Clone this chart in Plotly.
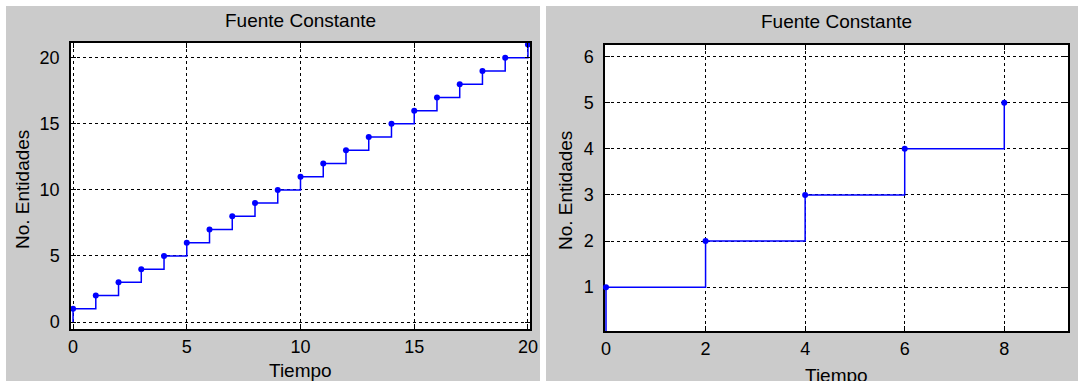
import plotly.graph_objects as go

# ---- data ----
t_left = list(range(0, 21))
n_left = [i + 1 for i in t_left]
t_right = [0, 2, 4, 6, 8]
n_right = [1, 2, 3, 4, 5]

title_text = "Fuente Constante"
xlabel = "Tiempo"
ylabel = "No. Entidades"
left_xticks = [0, 5, 10, 15, 20]
left_yticks = [0, 5, 10, 15, 20]
right_xticks = [0, 2, 4, 6, 8]
right_yticks = [1, 2, 3, 4, 5, 6]

W, H = 1078, 381
FONT = "Liberation Sans, Arial, sans-serif"
BLUE = "#0000ff"
GRAY = "#cbcbcb"

def px_x(p):
    return p / W

def px_y(p):
    return 1 - p / H

fig = go.Figure()

# left stairs
fig.add_trace(go.Scatter(x=[t_left[0]] + t_left, y=[0] + n_left, mode="lines",
                         line=dict(color=BLUE, width=1.5, shape="hv"),
                         xaxis="x", yaxis="y", showlegend=False, hoverinfo="skip"))
fig.add_trace(go.Scatter(x=t_left, y=n_left, mode="markers",
                         marker=dict(color=BLUE, size=6), cliponaxis=False,
                         xaxis="x", yaxis="y", showlegend=False))
# right stairs
fig.add_trace(go.Scatter(x=[t_right[0]] + t_right, y=[0] + n_right, mode="lines",
                         line=dict(color=BLUE, width=1.5, shape="hv"),
                         xaxis="x2", yaxis="y2", showlegend=False, hoverinfo="skip"))
fig.add_trace(go.Scatter(x=t_right, y=n_right, mode="markers",
                         marker=dict(color=BLUE, size=6), cliponaxis=False,
                         xaxis="x2", yaxis="y2", showlegend=False))

axis_common = dict(showline=True, linecolor="black", linewidth=1.5, mirror="ticks",
                   ticks="inside", ticklen=5, tickcolor="black", tickwidth=1,
                   showgrid=True, gridcolor="black", gridwidth=1, griddash="3px,3px",
                   zeroline=False, tickfont=dict(family=FONT, size=18, color="black"),
                   fixedrange=True)

L = (71, 530, 43, 329)   # left, right, top, bottom in px
R = (605, 1068, 45, 331)

fig.update_layout(
    autosize=True, margin=dict(l=0, r=0, t=0, b=0, autoexpand=False),
    paper_bgcolor="white", plot_bgcolor="white",
    xaxis=dict(domain=[px_x(L[0]), px_x(L[1])], range=[-0.09, 20.09],
               tickvals=left_xticks, anchor="y", ticklabelstandoff=1, **axis_common),
    yaxis=dict(domain=[px_y(L[3]), px_y(L[2])], range=[-0.53, 21.12],
               tickvals=left_yticks, anchor="x", ticklabelstandoff=6, **axis_common),
    xaxis2=dict(domain=[px_x(R[0]), px_x(R[1])], range=[-0.02, 9.28],
                tickvals=right_xticks, anchor="y2", ticklabelstandoff=1, **axis_common),
    yaxis2=dict(domain=[px_y(R[3]), px_y(R[2])], range=[0.05, 6.25],
                tickvals=right_yticks, anchor="x2", ticklabelstandoff=6, layer="below traces",
                **axis_common),
)

shapes = [
    dict(type="rect", xref="paper", yref="paper", x0=px_x(6), x1=px_x(540), y0=0, y1=px_y(6),
         fillcolor=GRAY, line=dict(width=0), layer="below"),
    dict(type="rect", xref="paper", yref="paper", x0=px_x(546), x1=1, y0=0, y1=px_y(6),
         fillcolor=GRAY, line=dict(width=0), layer="below"),
    dict(type="rect", xref="x domain", yref="y domain", x0=0, x1=1, y0=0, y1=1,
         fillcolor="white", line=dict(width=0), layer="below"),
    dict(type="rect", xref="x2 domain", yref="y2 domain", x0=0, x1=1, y0=0, y1=1,
         fillcolor="white", line=dict(width=0), layer="below"),
]
fig.update_layout(shapes=shapes)

tf = dict(family=FONT, size=19, color="black")
ann = [
    dict(text=title_text, x=px_x((L[0] + L[1]) / 2), y=px_y(20)),
    dict(text=title_text, x=px_x((R[0] + R[1]) / 2), y=px_y(22)),
    dict(text=xlabel, x=px_x((L[0] + L[1]) / 2), y=px_y(370)),
    dict(text=xlabel, x=px_x((R[0] + R[1]) / 2), y=px_y(375)),
    dict(text=ylabel, x=px_x(22), y=px_y(190), textangle=-90),
    dict(text=ylabel, x=px_x(565), y=px_y(191), textangle=-90),
]
for a in ann:
    a.update(xref="paper", yref="paper", showarrow=False, xanchor="center", yanchor="middle",
             font=tf)
fig.update_layout(annotations=ann)

post = ("document.documentElement.style.margin='0';document.documentElement.style.padding='0';"
        "document.documentElement.style.overflow='hidden';"
        "document.body.style.margin='0';document.body.style.padding='0';"
        "document.body.style.overflow='hidden';"
        "var gd=document.getElementById('{plot_id}');"
        "gd.style.width=window.innerWidth+'px';gd.style.height=window.innerHeight+'px';"
        "Plotly.relayout(gd,{width:window.innerWidth,height:window.innerHeight});")

fig.write_html("out.html", config={"displayModeBar": False},
               default_width="1078px", default_height="381px", post_script=post)
